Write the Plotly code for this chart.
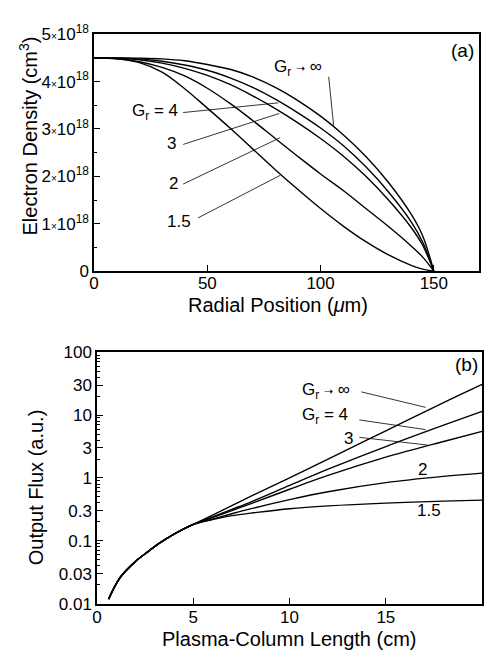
import plotly.graph_objects as go

W, H = 491, 660
FONT = "Liberation Sans, Arial, Helvetica, sans-serif"

# ---------------- Panel (a): electron density profiles (units of 1e18 cm^-3)
radius_um = [0, 10, 20, 30, 40, 50, 60, 70, 80, 90, 100, 110, 120, 130, 140, 145, 150]
dens_g_inf = [4.5, 4.5, 4.495, 4.48, 4.44, 4.36, 4.26, 4.1, 3.88, 3.6, 3.27, 2.88, 2.42, 1.87, 1.2, 0.75, 0.0]
dens_g_4 = [4.5, 4.5, 4.48, 4.43, 4.35, 4.24, 4.08, 3.88, 3.63, 3.34, 3.02, 2.65, 2.2, 1.67, 1.04, 0.62, 0.0]
dens_g_3 = [4.5, 4.49, 4.46, 4.39, 4.28, 4.13, 3.94, 3.7, 3.43, 3.13, 2.8, 2.43, 2.0, 1.5, 0.92, 0.55, 0.0]
dens_g_2 = [4.5, 4.48, 4.42, 4.3, 4.12, 3.86, 3.54, 3.18, 2.8, 2.42, 2.05, 1.7, 1.32, 0.94, 0.53, 0.3, 0.0]
dens_g_15 = [4.5, 4.48, 4.4, 4.2, 3.85, 3.44, 3.02, 2.58, 2.14, 1.72, 1.32, 0.95, 0.62, 0.34, 0.12, 0.04, 0.0]

dens_ticks = [0, 1, 2, 3, 4, 5]
dens_ticktext = ["0"] + [f"{v}<span style='font-size:10px'>×</span>10<sup>18</sup>" for v in dens_ticks[1:]]
radius_ticks = [0, 50, 100, 150]

# ---------------- Panel (b): output flux vs plasma-column length
len_common = [0.6, 1.2, 2.0, 2.5, 3.2, 4.0, 5.0]
flux_common = [0.0118, 0.026, 0.047, 0.062, 0.09, 0.128, 0.182]
len_branch = [6, 7, 8, 10, 12, 15, 18, 20]
flux_g_inf = [0.257, 0.363, 0.513, 1.0, 1.995, 5.62, 15.85, 30.9]
flux_g_4 = [0.24, 0.316, 0.417, 0.759, 1.38, 3.16, 6.92, 11.48]
flux_g_3 = [0.234, 0.302, 0.389, 0.661, 1.096, 2.138, 3.802, 5.495]
flux_g_2 = [0.221, 0.269, 0.324, 0.452, 0.603, 0.841, 1.059, 1.194]
flux_g_15 = [0.218, 0.251, 0.275, 0.324, 0.359, 0.398, 0.427, 0.443]

flux_ticks = [0.01, 0.03, 0.1, 0.3, 1, 3, 10, 30, 100]
flux_ticktext = ["0.01", "0.03", "0.1", "0.3", "1", "3", "10", "30", "100"]
flux_minor = [m * 10 ** e for e in range(-2, 2) for m in range(2, 10) if m != 3]
length_ticks = [0, 5, 10, 15, 20]

fig = go.Figure()
line = dict(color="black", width=1.4, shape="spline", smoothing=1.0)
for ys in [dens_g_inf, dens_g_4, dens_g_3, dens_g_2, dens_g_15]:
    fig.add_trace(go.Scatter(x=radius_um, y=ys, mode="lines", line=line,
                             xaxis="x", yaxis="y", showlegend=False, hoverinfo="skip"))
for ys in [flux_g_inf, flux_g_4, flux_g_3, flux_g_2, flux_g_15]:
    fig.add_trace(go.Scatter(x=len_common + len_branch, y=flux_common + ys, mode="lines",
                             line=line, xaxis="x2", yaxis="y2", showlegend=False, hoverinfo="skip"))

def X(p):
    return p / W

def Y(p):
    return 1 - p / H

axis_common = dict(showline=True, mirror=True, linecolor="black", linewidth=1.5,
                   showgrid=False, zeroline=False, ticks="inside", tickcolor="black",
                   ticklen=6, tickwidth=1, tickfont=dict(family=FONT, size=17, color="black"))

fig.update_layout(
    width=W, height=H, margin=dict(l=0, r=0, t=0, b=0),
    paper_bgcolor="white", plot_bgcolor="white",
    font=dict(family=FONT, color="black"),
    xaxis=dict(domain=[X(90), X(479)], range=[0, 170], tickvals=radius_ticks,
               anchor="y", ticklabelstandoff=-4, **axis_common),
    yaxis=dict(domain=[Y(268), Y(23)], range=[0, 5], tickvals=dens_ticks,
               ticktext=dens_ticktext, anchor="x",
               minor=dict(ticks="inside", ticklen=3, tickcolor="black",
                          tickvals=[0.5, 1.5, 2.5, 3.5, 4.5]), **axis_common),
    xaxis2=dict(domain=[X(93), X(482)], range=[0, 20], tickvals=length_ticks,
                anchor="y2", ticklabelstandoff=-3, **axis_common),
    yaxis2=dict(domain=[Y(612), Y(352)], type="log", range=[-2, 2], tickvals=flux_ticks,
                ticktext=flux_ticktext, anchor="x2",
                minor=dict(ticks="inside", ticklen=3, tickcolor="black", tickvals=flux_minor),
                **axis_common),
)

ann = []
def text(s, x, y, size=17, xanchor="center", angle=0):
    ann.append(dict(text=s, x=X(x), y=Y(y), xref="paper", yref="paper", showarrow=False,
                    xanchor=xanchor, yanchor="middle", textangle=angle,
                    font=dict(family=FONT, size=size, color="black")))

arrow = "<span style='font-size:11px'>➝</span>"
# axis titles
text("Electron Density (cm<sup>3</sup>)", 24, 128, size=20, angle=-90)
text("Radial Position (<i>μ</i>m)", 276, 303, size=20)
text("Output Flux (a.u.)", 31, 492, size=20, angle=-90)
text("Plasma-Column Length (cm)", 287, 649, size=20)
# panel (a) labels
text("(a)", 462, 40, size=19)
text(f"G<sub>r</sub> {arrow} ∞", 270, 58, xanchor="left")
text("G<sub>r</sub> = 4", 177, 103, xanchor="right")
text("3", 175, 136, xanchor="right")
text("2", 177, 177, xanchor="right")
text("1.5", 190, 217, xanchor="right")
# panel (b) labels
text("(b)", 466, 365, size=19)
text(f"G<sub>r</sub> {arrow} ∞", 298, 392, xanchor="left")
text("G<sub>r</sub> = 4", 298, 418, xanchor="left")
text("3", 340, 441, xanchor="left")
text("2", 422, 473)
text("1.5", 428, 516)
fig.update_layout(annotations=ann)

leaders = [
    ((327, 67), (332, 117)), ((180, 104), (276, 94)), ((180, 137), (277, 105)),
    ((180, 178), (278, 130)), ((195, 213), (278, 169)),
    ((360, 393), (425, 409)), ((358, 422), (425, 432)), ((358, 440), (427, 448)),
]
fig.update_layout(shapes=[dict(type="line", xref="paper", yref="paper",
                               x0=X(a[0]), y0=Y(a[1]), x1=X(b[0]), y1=Y(b[1]),
                               line=dict(color="black", width=0.8)) for a, b in leaders])

fig.write_html("out.html")
